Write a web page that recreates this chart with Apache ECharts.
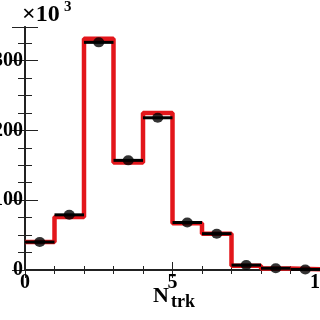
<!DOCTYPE html>
<html>
<head>
<meta charset="utf-8">
<script src="https://cdn.jsdelivr.net/npm/echarts@6/dist/echarts.min.js"></script>
<style>
    html, body { margin: 0; padding: 0; background: #fff; }
    #chart { width: 320px; height: 320px; }
</style>
</head>
<body>
<div id="chart"></div>
<script>
    // bin edges 0..10, one value per bin (x10^3)
    var binLow = [0, 1, 2, 3, 4, 5, 6, 7, 8, 9];
    var binHigh = [1, 2, 3, 4, 5, 6, 7, 8, 9, 10];
    var dataCounts = [40, 79, 326, 157, 218, 68, 52, 7, 2.5, 0.8];
    var mcCounts = [40, 76, 331, 154, 225, 67, 52, 6, 2, 1];
    var xTicks = [0, 5, 10];
    var yTicks = [0, 100, 200, 300];

    var font = 'Liberation Serif';

    // red step outline of the simulation
    var mcStep = [];
    for (var i = 0; i < binLow.length; i++) {
        mcStep.push([binLow[i], mcCounts[i]]);
    }
    mcStep.push([binHigh[binHigh.length - 1], mcCounts[mcCounts.length - 1]]);

    var dataBars = [], dataPoints = [];
    for (var j = 0; j < binLow.length; j++) {
        dataBars.push([binLow[j], binHigh[j], dataCounts[j]]);
        dataPoints.push([(binLow[j] + binHigh[j]) / 2, dataCounts[j]]);
    }

    var chart = echarts.init(document.getElementById('chart'));

    var axisText = {color: '#000', fontFamily: font, fontWeight: 'bold', fontSize: 20};

    var option = {
        animation: false,
        grid: {left: 25, right: 0, top: 27, bottom: 50, containLabel: false, outerBoundsMode: 'none'},
        xAxis: [{
            type: 'value', min: 0, max: 10, interval: 5,
            axisLine: {lineStyle: {color: '#222', width: 2}},
            axisTick: {inside: true, length: 8, lineStyle: {color: '#222', width: 1}},
            minorTick: {show: true, splitNumber: 5, length: 4, lineStyle: {color: '#222'}},
            splitLine: {show: false},
            axisLabel: Object.assign({margin: 3, formatter: function (v) {
                return xTicks.indexOf(v) >= 0 ? String(v) : '';
            }}, axisText)
        }, {
            type: 'value', min: 0, max: 10, interval: 5, position: 'top',
            axisLine: {show: true, lineStyle: {color: '#222', width: 1.5}},
            axisTick: {show: true, inside: true, length: 8, lineStyle: {color: '#222'}},
            minorTick: {show: true, splitNumber: 5, length: 4, lineStyle: {color: '#222'}},
            splitLine: {show: false},
            axisLabel: {show: false}
        }],
        yAxis: [{
            type: 'value', min: 0, max: 348, interval: 100,
            axisLine: {show: true, lineStyle: {color: '#222', width: 2}},
            axisTick: {show: true, inside: true, length: 13, lineStyle: {color: '#222', width: 1}},
            minorTick: {show: true, splitNumber: 4, length: 7, lineStyle: {color: '#222'}},
            splitLine: {show: false},
            axisLabel: Object.assign({margin: 2, showMaxLabel: false, formatter: function (v) {
                return yTicks.indexOf(v) >= 0 ? String(v) : '';
            }}, axisText)
        }, {
            type: 'value', min: 0, max: 348, interval: 100, position: 'right',
            axisLine: {show: true, lineStyle: {color: '#222', width: 1.5}},
            axisTick: {show: true, inside: true, length: 13, lineStyle: {color: '#222'}},
            minorTick: {show: true, splitNumber: 4, length: 7, lineStyle: {color: '#222'}},
            splitLine: {show: false},
            axisLabel: {show: false}
        }],
        series: [{
            type: 'line',
            step: 'end',
            data: mcStep,
            symbol: 'none',
            lineStyle: {color: '#e3161b', width: 4.5},
            z: 2
        }, {
            type: 'custom',
            data: dataBars,
            renderItem: function (params, api) {
                var a = api.coord([api.value(0), api.value(2)]);
                var b = api.coord([api.value(1), api.value(2)]);
                return {
                    type: 'line',
                    shape: {x1: a[0], y1: a[1], x2: b[0], y2: b[1]},
                    style: {stroke: '#000', lineWidth: 3}
                };
            },
            z: 3
        }, {
            type: 'scatter',
            data: dataPoints,
            symbol: 'circle',
            symbolSize: [11, 10],
            itemStyle: {color: '#000'},
            z: 4
        }],
        graphic: [
            {type: 'text', left: 22, top: 3, style: {text: '×10', fill: '#000', font: 'bold 24px ' + font}},
            {type: 'text', left: 64, top: 0, style: {text: '3', fill: '#000', font: 'bold 15px ' + font}},
            {type: 'text', left: 153, top: 285, style: {text: 'N', fill: '#000', font: 'bold 22px ' + font}},
            {type: 'text', left: 171, top: 293, style: {text: 'trk', fill: '#000', font: 'bold 18px ' + font}}
        ]
    };

    chart.setOption(option);
</script>
</body>
</html>
